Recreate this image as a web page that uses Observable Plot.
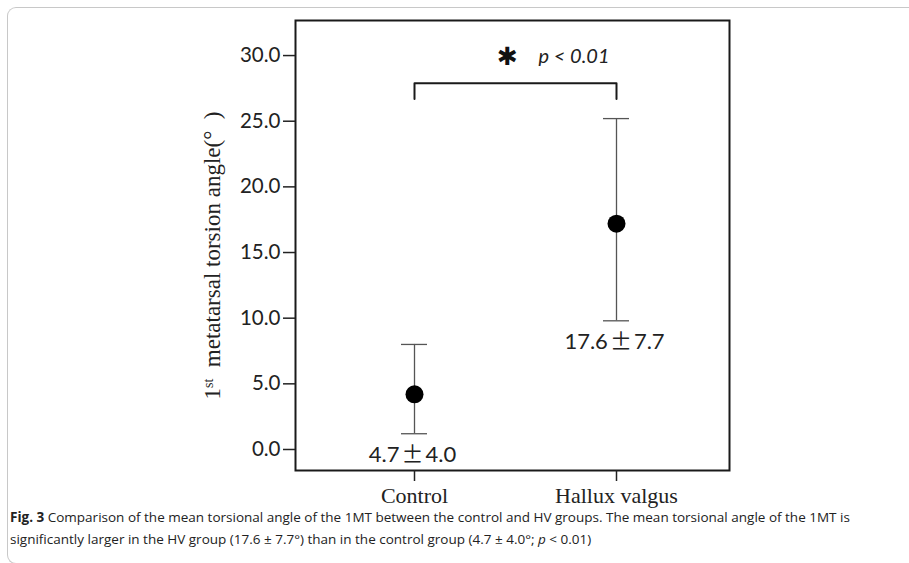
<!DOCTYPE html>
<html>
<head>
<meta charset="utf-8">
<script src="https://cdn.jsdelivr.net/npm/d3@7"></script>
<script src="https://cdn.jsdelivr.net/npm/@observablehq/plot@0.6"></script>
<style>
  html, body { margin: 0; padding: 0; background: #fff; }
  #wrap { position: relative; width: 909px; height: 563px; overflow: hidden; }
  #border { position: absolute; left: 7px; top: 7px; width: 1000px; height: 557px;
    border-top: 1.5px solid #c8c8c8; border-left: 1.5px solid #c8c8c8; border-bottom: 1.5px solid #c8c8c8;
    border-radius: 9px 0 0 9px; box-sizing: border-box; }
  #chart { position: absolute; left: 0; top: 0; }
  #caption { position: absolute; left: 10px; top: 506px; font-family: "Open Sans", sans-serif;
    font-size: 13.5px; line-height: 22px; color: #222; white-space: nowrap; }
  #caption b { font-weight: 700; }
</style>
</head>
<body>
<div id="wrap">
  <div id="border"></div>
  <div id="chart"></div>
  <div id="caption"><b>Fig. 3</b> Comparison of the mean torsional angle of the 1MT between the control and HV groups. The mean torsional angle of the 1MT is<br>significantly larger in the HV group (17.6 ± 7.7°) than in the control group (4.7 ± 4.0°; <i>p</i> &lt; 0.01)</div>
</div>
<script>
// ---- data ----
const groups = ["Control", "Hallux valgus"];
const means = [4.2, 17.2];
const lower = [1.2, 9.8];
const upper = [8.0, 25.2];
const valueLabels = ["4.7\u00b14.0", "17.6\u00b17.7"];
const yTicks = [0, 5, 10, 15, 20, 25, 30];
const bracketX = ["Control", "Control", "Hallux valgus", "Hallux valgus"];
const bracketY = [26.7, 27.9, 27.9, 26.7];
const sigY = [29.9];
const sigMark = ["\u2731"];
const sigText = ["p < 0.01"];
const yTitle = "1st metatarsal torsion angle(\u00b0\u2002)";

const rows = groups.map((g, i) => ({g, mean: means[i], lo: lower[i], hi: upper[i], label: valueLabels[i]}));
const bracket = bracketX.map((x, i) => ({x, y: bracketY[i]}));

const chart = Plot.plot({
  width: 909,
  height: 510,
  marginLeft: 295,
  marginRight: 180,
  marginTop: 20,
  marginBottom: 40,
  style: {background: "transparent", overflow: "visible"},
  x: {type: "point", domain: groups, padding: 0.574, align: 0.513, label: null},
  y: {domain: [-1.6, 32.67], label: null},
  marks: [
    Plot.frame({stroke: "#1a1a1a", strokeWidth: 2}),
    Plot.axisY({ticks: yTicks, tickFormat: d3.format(".1f"), tickSize: 12, tickPadding: 3,
      fontSize: 20.5, fontFamily: "Lato, sans-serif", stroke: "#222", strokeWidth: 1.5, fill: "#222", label: null}),
    Plot.axisX({tickSize: 11, tickPadding: 6, fontSize: 22, fontFamily: "'Liberation Serif', 'Times New Roman', serif",
      stroke: "#222", strokeWidth: 1.5, fill: "#222", label: null}),
    Plot.ruleX(rows, {x: "g", y1: "lo", y2: "hi", stroke: "#555", strokeWidth: 1.3}),
    Plot.ruleY(rows, {x1: "g", x2: "g", y: "hi", stroke: "#555", strokeWidth: 1.3, insetLeft: -13, insetRight: -13}),
    Plot.ruleY(rows, {x1: "g", x2: "g", y: "lo", stroke: "#555", strokeWidth: 1.3, insetLeft: -13, insetRight: -13}),
    Plot.dot(rows, {x: "g", y: "mean", r: 9, fill: "#000", stroke: "none"}),
    Plot.text(rows, {x: "g", y: "lo", text: "label", dy: 21, dx: -2, fontSize: 22, fontFamily: "Lato, sans-serif",
      fill: "#222", className: "vlabel"}),
    Plot.line(bracket, {x: "x", y: "y", stroke: "#1a1a1a", strokeWidth: 2, curve: "linear"}),
    Plot.text(sigY, {y: d => d, frameAnchor: "middle", text: sigMark, dx: -5, dy: 0, fontSize: 25,
      fontFamily: "'DejaVu Sans', sans-serif", fill: "#111"}),
    Plot.text(sigY, {y: d => d, frameAnchor: "middle", text: sigText, dx: 26, textAnchor: "start", fontSize: 20,
      fontStyle: "italic", fontFamily: "Lato, sans-serif", fill: "#222"}),
    Plot.text([yTitle], {frameAnchor: "left", textAnchor: "middle", text: d => d, rotate: -90, dx: -83, dy: 10, fontSize: 23,
      fontFamily: "'Liberation Serif', 'Times New Roman', serif", fill: "#222", className: "ytitle"})
  ]
});
document.getElementById("chart").appendChild(chart);

// superscript for "1st" in the y-axis title
const t = d3.select(chart).select(".ytitle text");
if (!t.empty()) {
  const full = t.text();
  t.text(null);
  t.append("tspan").text("1");
  t.append("tspan").attr("font-size", 14).attr("dy", "-0.5em").text("st");
  t.append("tspan").attr("dy", "0.31em").text(" " + full.slice(3));
}
// wide ± sign in the value labels
d3.select(chart).selectAll(".vlabel text").each(function() {
  const s = d3.select(this);
  const [a, b] = s.text().split("\u00b1");
  s.text(null);
  s.append("tspan").text(a);
  s.append("tspan").attr("font-family", "'Noto Sans CJK JP', sans-serif").attr("dx", 2).text("\u00b1");
  s.append("tspan").attr("dx", 2).text(b);
});
</script>
</body>
</html>
